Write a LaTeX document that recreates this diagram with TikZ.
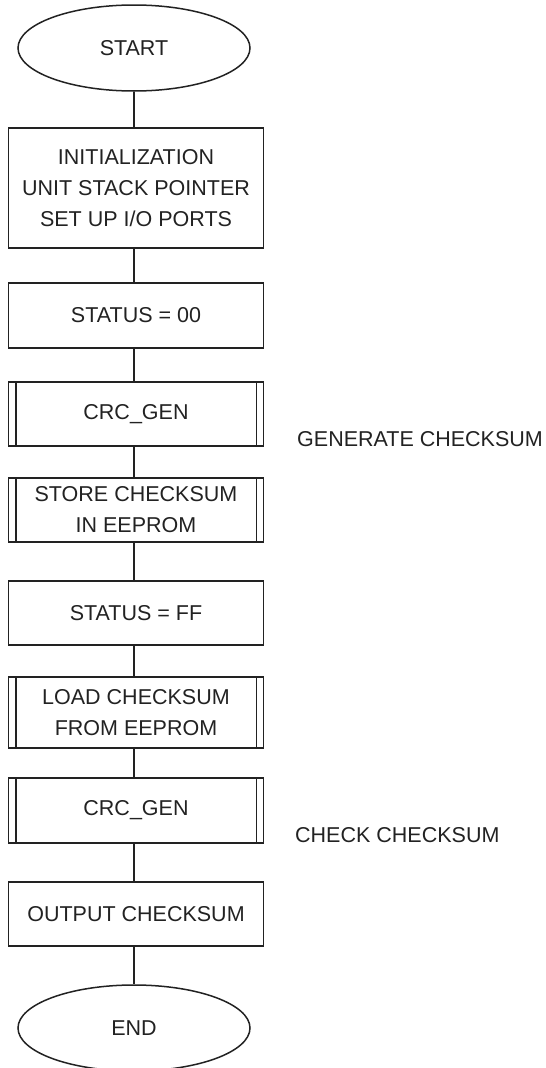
\documentclass[tikz,border=0pt]{standalone}
\usepackage{fontspec}
\setmainfont{Liberation Sans}
\usetikzlibrary{shapes.geometric}
\definecolor{ink}{HTML}{222222}
\begin{document}
\begin{tikzpicture}[x=1pt,y=-1pt,
  every node/.style={font=\fontsize{21.5}{31}\selectfont, text=ink},
  term/.style={draw=ink, line width=1.5pt, ellipse, inner sep=0pt, minimum width=232pt, minimum height=86pt},
  proc/.style={draw=ink, line width=1.5pt, rectangle, inner sep=0pt, minimum width=255pt, align=center},
  link/.style={draw=ink, line width=1.5pt},
  note/.style={anchor=west, inner sep=0pt}]
\useasboundingbox (0,0) rectangle (546,1068);
\node[term] (start) at (134,48) {START};
\node[proc, minimum height=120pt] (init) at (136,188) {INITIALIZATION\\UNIT STACK POINTER\\SET UP I/O PORTS};
\node[proc, minimum height=65pt] (s00) at (136,315.5) {STATUS = 00};
\node[proc, minimum height=64pt] (crc1) at (136,414) {CRC\_GEN};
\node[proc, minimum height=64pt] (store) at (136,510) {STORE CHECKSUM\\IN EEPROM};
\node[proc, minimum height=64pt] (sff) at (136,613) {STATUS = FF};
\node[proc, minimum height=71pt] (load) at (136,712.5) {LOAD CHECKSUM\\FROM EEPROM};
\node[proc, minimum height=65pt] (crc2) at (136,810.5) {CRC\_GEN};
\node[proc, minimum height=64pt] (out) at (136,914) {OUTPUT CHECKSUM};
\node[term] (end) at (134,1028) {END};
\foreach \n in {crc1,store,load,crc2}{
  \draw[link] ([xshift=8pt]\n.north west) -- ([xshift=8pt]\n.south west);
  \draw[link] ([xshift=-8pt]\n.north east) -- ([xshift=-8pt]\n.south east);
}
\node[note] (gen) at (297,439) {GENERATE CHECKSUM};
\node[note] (chk) at (295,835) {CHECK CHECKSUM};
\draw[link] (start.south) -- (start.south |- init.north);
\draw[link] (init.south -| start.south) -- (start.south |- s00.north);
\draw[link] (s00.south -| start.south) -- (start.south |- crc1.north);
\draw[link] (crc1.south -| start.south) -- (start.south |- store.north);
\draw[link] (store.south -| start.south) -- (start.south |- sff.north);
\draw[link] (sff.south -| start.south) -- (start.south |- load.north);
\draw[link] (load.south -| start.south) -- (start.south |- crc2.north);
\draw[link] (crc2.south -| start.south) -- (start.south |- out.north);
\draw[link] (out.south -| start.south) -- (end.north);
\end{tikzpicture}
\end{document}
